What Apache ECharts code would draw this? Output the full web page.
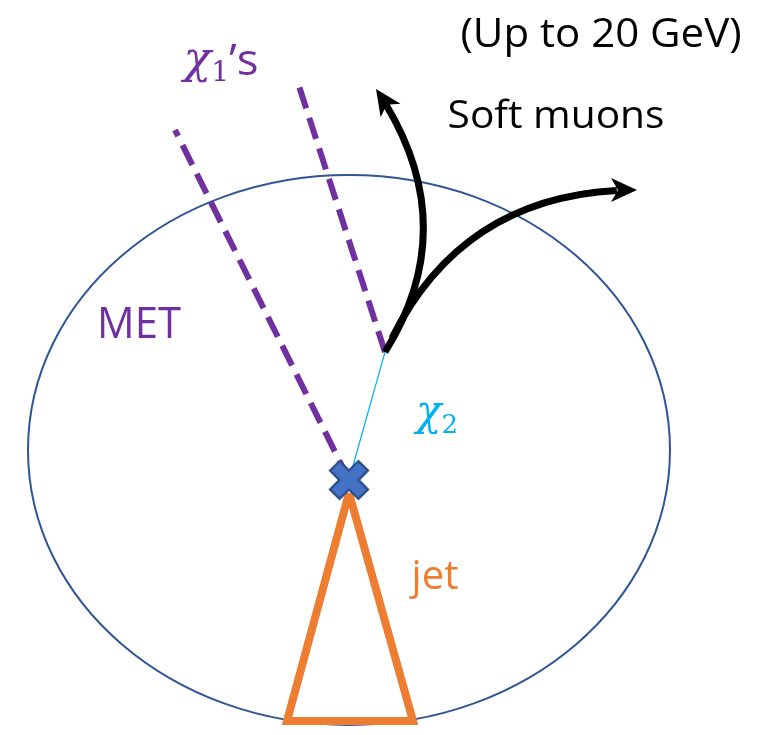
<!DOCTYPE html>
<html>
<head>
<meta charset="utf-8">
<script src="https://cdn.jsdelivr.net/npm/echarts@6/dist/echarts.min.js"></script>
<style>
  html, body { margin: 0; background: #fff; }
  #chart { width: 768px; height: 735px; }
</style>
</head>
<body>
<div id="chart"></div>
<script>
// diagram units, y grows downwards (axis is inverted)
const detector = [[349, 450, 321, 275]]            // cx, cy, rx, ry
const vertex = [349, 480]
const decayPoint = [385, 352]
const chi1Tracks = [
  [vertex, [175, 130]],
  [decayPoint, [297, 80]]
]
const chi2Track = [vertex, decayPoint]
const jetCone = [[349, 493], [413, 721], [287, 721], [349, 493]]
// start x, y, control x, y, tip x, y
const muonTracks = [
  [385, 352, 466, 222, 376, 89],
  [392, 338, 466, 190, 637, 190]
]
const labelText = ['(Up to 20 GeV)', 'Soft muons', 'MET', 'jet', '{m|χ}{sub|1}{s|’s}', '{m|χ}{sub|2}']
const labelAnchor = [[601, 36], [556, 117], [139, 325], [435, 578], [221, 62], [437, 414]]

const labelStyle = [
  { color: '#000', size: 40, sx: 1.05 },
  { color: '#000', size: 38, sx: 1.07 },
  { color: '#7030A0', size: 44, sx: 0.95 },
  { color: '#ED7D31', size: 40, sx: 1.0 },
  { color: '#7030A0', size: 44, sx: 1.04 },
  { color: '#00B0F0', size: 42, sx: 1.0 }
]

const chart = echarts.init(document.getElementById('chart'))

const lineOf = (pts, color, width, type) => ({
  type: 'line',
  data: pts,
  symbol: 'none',
  silent: true,
  animation: false,
  lineStyle: { color: color, width: width, type: type || 'solid', cap: 'butt', join: 'miter' }
})

chart.setOption({
  animation: false,
  grid: { left: 0, right: 0, top: 0, bottom: 0 },
  xAxis: { type: 'value', min: 0, max: 768, show: false },
  yAxis: { type: 'value', min: 0, max: 735, inverse: true, show: false },
  series: [
    {
      type: 'custom',
      data: detector,
      clip: false,
      z: 1,
      renderItem: function (params, api) {
        const c = api.coord([api.value(0), api.value(1)])
        const s = api.size([api.value(2), api.value(3)])
        return {
          type: 'ellipse',
          shape: { cx: c[0], cy: c[1], rx: Math.abs(s[0]), ry: Math.abs(s[1]) },
          style: { fill: 'none', stroke: '#2F5597', lineWidth: 2 }
        }
      }
    },
    Object.assign(lineOf(chi1Tracks[0], '#7030A0', 6, [22, 10]), { z: 2 }),
    Object.assign(lineOf(chi1Tracks[1], '#7030A0', 6, [22, 10]), { z: 2 }),
    Object.assign(lineOf(chi2Track, '#00B0F0', 1.2), { z: 2 }),
    Object.assign(lineOf(jetCone, '#ED7D31', 8), { z: 3 }),
    {
      // curved muon tracks with arrow heads
      type: 'custom',
      data: muonTracks,
      clip: false,
      z: 4,
      renderItem: function (params, api) {
        const a = api.coord([api.value(0), api.value(1)])
        const c = api.coord([api.value(2), api.value(3)])
        const b = api.coord([api.value(4), api.value(5)])
        const ang = Math.atan2(b[1] - c[1], b[0] - c[0])
        return {
          type: 'group',
          children: [
            {
              type: 'bezierCurve',
              shape: { x1: a[0], y1: a[1], cpx1: c[0], cpy1: c[1], x2: b[0], y2: b[1], percent: 0.94 },
              style: { fill: 'none', stroke: '#000', lineWidth: 7 }
            },
            {
              type: 'polygon',
              x: b[0],
              y: b[1],
              rotation: -ang,
              shape: { points: [[0, 0], [-26, -12], [-19, 0], [-26, 12]] },
              style: { fill: '#000' }
            }
          ]
        }
      }
    },
    {
      type: 'scatter',
      z: 5,
      silent: true,
      data: [vertex],
      symbol: 'path://M3,0 H6 V3 H9 V6 H6 V9 H3 V6 H0 V3 H3 Z',
      symbolSize: 40,
      symbolRotate: 45,
      itemStyle: { color: '#4472C4', borderColor: '#2F528F', borderWidth: 2.5, opacity: 1 }
    },
    {
      type: 'custom',
      data: labelAnchor,
      clip: false,
      z: 6,
      renderItem: function (params, api) {
        const i = params.dataIndex
        const p = api.coord([api.value(0), api.value(1)])
        const st = labelStyle[i]
        return {
          type: 'text',
          x: p[0],
          y: p[1],
          scaleX: st.sx,
          style: {
            text: labelText[i],
            fill: st.color,
            font: st.size + 'px "Open Sans"',
            align: 'center',
            verticalAlign: 'middle',
            rich: {
              m: { fontFamily: 'DejaVu Serif', fontStyle: 'italic', fontSize: st.size, lineHeight: 50, verticalAlign: 'middle', fill: st.color },
              sub: { fontFamily: 'DejaVu Serif', fontSize: Math.round(st.size * 0.62), lineHeight: 28, verticalAlign: 'bottom', fill: st.color },
              s: { fontFamily: 'Open Sans', fontSize: st.size, lineHeight: 50, verticalAlign: 'middle', fill: st.color }
            }
          }
        }
      }
    }
  ]
})
</script>
</body>
</html>
